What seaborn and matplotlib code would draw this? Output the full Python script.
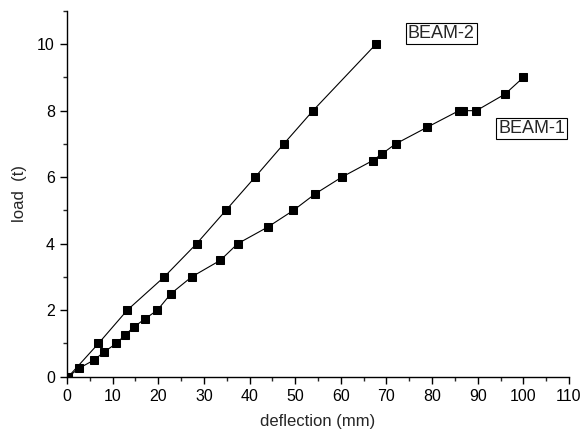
import matplotlib
matplotlib.use("Agg")
import matplotlib.pyplot as plt
import seaborn as sns
import pandas as pd
from matplotlib.ticker import MultipleLocator

# data
beam1_defl = [0.3, 2.6, 5.9, 8.2, 10.8, 12.7, 14.7, 17.2, 19.8, 22.8, 27.3, 33.6,
              37.4, 44.0, 49.6, 54.4, 60.2, 67.0, 69.0, 72.0, 78.9, 85.9, 86.7,
              89.7, 96.0, 100.0]
beam1_load = [0, 0.25, 0.5, 0.75, 1.0, 1.25, 1.5, 1.75, 2.0, 2.5, 3.0, 3.5,
              4.0, 4.5, 5.0, 5.5, 6.0, 6.5, 6.7, 7.0, 7.5, 8.0, 8.0,
              8.0, 8.5, 9.0]

beam2_defl = [0.3, 6.9, 13.2, 21.3, 28.4, 34.8, 41.2, 47.5, 53.9, 67.7]
beam2_load = [0, 1, 2, 3, 4, 5, 6, 7, 8, 10]

sns.set_style("ticks")
plt.rcParams["font.family"] = ["Liberation Sans", "DejaVu Sans"]

fig = plt.figure(figsize=(5.84, 4.36), dpi=100)
ax = fig.add_axes([0.1147, 0.136, 0.8596, 0.839])

b1 = pd.DataFrame({"deflection": beam1_defl, "load": beam1_load})
b2 = pd.DataFrame({"deflection": beam2_defl, "load": beam2_load})

for df in (b1, b2):
    sns.lineplot(data=df, x="deflection", y="load", sort=False, ax=ax,
                 color="black", linewidth=0.8, marker="s", markersize=6,
                 markeredgecolor="black", markerfacecolor="black")

box = dict(boxstyle="square,pad=0.12", facecolor="white", edgecolor="black", linewidth=0.8)
ax.text(82, 10.33, "BEAM-2", ha="center", va="center", fontsize=13, bbox=box)
ax.text(101.8, 7.47, "BEAM-1", ha="center", va="center", fontsize=13, bbox=box)

ax.set_xlim(0, 110)
ax.set_ylim(0, 11)
ax.xaxis.set_major_locator(MultipleLocator(10))
ax.xaxis.set_minor_locator(MultipleLocator(5))
ax.yaxis.set_major_locator(MultipleLocator(2))
ax.yaxis.set_minor_locator(MultipleLocator(1))
ax.tick_params(which="major", direction="out", length=4.8, width=1, pad=4,
               labelsize=11.5, colors="black")
ax.tick_params(which="minor", direction="out", length=2.9, width=1)

ax.set_xlabel("deflection (mm)", fontsize=12, labelpad=7)
ax.set_ylabel("load  (t)", fontsize=12, labelpad=7)

sns.despine(ax=ax)
for s in ("left", "bottom"):
    ax.spines[s].set_linewidth(1)
    ax.spines[s].set_color("black")

fig.savefig("out.png", dpi=100)
